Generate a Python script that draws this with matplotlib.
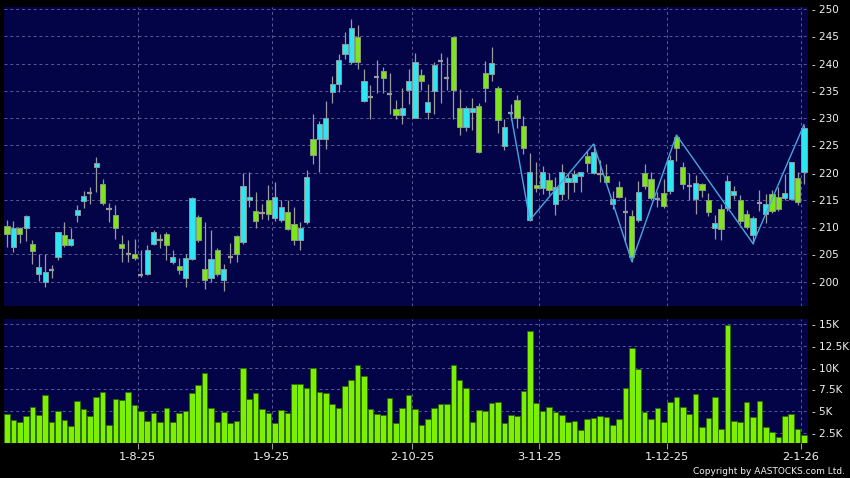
import matplotlib
matplotlib.use('Agg')
import matplotlib.pyplot as plt
import numpy as np

# daily OHLC
opens = [210.2, 206.4, 209.85, 209.85, 207.0, 201.5, 200.0, 202.2, 204.5, 208.6,
         206.8, 212.3, 214.8, 216.3, 221.0, 218.0, 213.3, 212.3, 207.0, 205.1,
         205.0, 201.3, 201.5, 207.0, 207.7, 208.8, 203.7, 202.9, 200.6, 204.1,
         211.9, 202.4, 200.7, 205.75, 200.3, 204.5, 208.4, 207.2, 215.0, 213.0,
         212.6, 215.0, 211.6, 211.4, 212.8, 210.65, 207.7, 211.0, 226.1, 226.1,
         226.1, 234.7, 236.3, 241.7, 240.3, 244.8, 233.1, 233.9, 237.5, 238.7,
         234.35, 231.6, 230.6, 235.15, 230.1, 238.0, 231.2, 235.0, 240.5, 237.3,
         244.8, 231.8, 228.3, 231.1, 232.3, 238.2, 238.1, 235.6, 224.9, 230.9,
         233.4, 228.55, 211.3, 217.7, 217.1, 218.65, 214.25, 216.0, 218.2, 218.35,
         219.4, 223.0, 219.9, 219.75, 219.45, 214.2, 217.4, 212.85, 212.1, 211.3,
         219.9, 218.8, 215.2, 216.2, 216.7, 226.5, 221.0, 217.55, 215.2, 217.9,
         215.0, 209.9, 213.3, 213.6, 215.9, 215.0, 212.45, 208.5, 214.5, 212.4,
         216.0, 215.45, 215.3, 215.2, 219.0, 220.15]
highs = [211.3, 211.1, 210.0, 212.2, 207.6, 205.0, 205.0, 203.0, 209.2, 211.0,
         209.85, 214.0, 216.6, 217.4, 222.9, 218.9, 214.5, 214.1, 208.5, 207.6,
         207.9, 205.8, 206.7, 209.4, 208.8, 209.2, 205.9, 204.4, 205.0, 215.6,
         212.2, 211.0, 209.4, 206.1, 203.2, 207.1, 208.6, 220.0, 220.2, 216.4,
         214.3, 217.7, 218.3, 215.0, 215.0, 213.7, 211.0, 220.4, 230.8, 229.4,
         233.1, 237.8, 241.8, 245.8, 248.1, 247.1, 239.0, 236.1, 240.7, 239.4,
         238.3, 233.4, 235.5, 239.0, 241.95, 239.0, 236.3, 240.3, 242.0, 241.3,
         244.9, 235.3, 232.3, 233.6, 232.8, 240.5, 243.1, 235.9, 229.8, 232.5,
         234.2, 230.3, 223.6, 222.0, 221.2, 220.0, 219.2, 221.6, 219.9, 220.5,
         220.1, 224.0, 225.25, 222.4, 221.5, 216.6, 218.5, 215.5, 213.2, 218.5,
         221.5, 220.2, 216.4, 218.9, 223.2, 226.9, 221.9, 219.9, 219.5, 218.1,
         216.2, 212.2, 214.3, 219.6, 217.5, 215.9, 213.2, 212.0, 216.9, 216.0,
         216.8, 217.4, 219.8, 222.0, 220.1, 228.8]
lows = [206.4, 205.5, 207.1, 207.5, 203.3, 200.1, 199.0, 200.6, 203.9, 206.4,
        206.5, 211.0, 213.6, 214.3, 216.5, 214.0, 211.0, 207.9, 203.6, 203.6,
        203.9, 200.9, 201.3, 206.7, 206.1, 203.9, 203.3, 201.4, 199.0, 203.9,
        207.3, 198.7, 199.9, 201.0, 198.3, 203.4, 203.6, 207.0, 213.7, 209.9,
        211.5, 211.3, 211.2, 211.0, 209.4, 206.7, 205.8, 210.6, 221.5, 220.1,
        224.4, 232.7, 234.8, 240.9, 240.0, 239.0, 233.0, 229.8, 234.6, 234.6,
        230.8, 229.9, 229.0, 232.5, 230.0, 235.2, 229.9, 230.8, 232.7, 235.2,
        229.8, 226.9, 227.6, 227.8, 223.6, 233.0, 236.8, 227.2, 224.1, 229.6,
        228.2, 223.4, 211.2, 216.5, 216.0, 215.9, 212.2, 215.0, 215.1, 216.5,
        216.4, 220.1, 219.7, 218.35, 217.9, 213.4, 215.3, 207.2, 203.7, 210.9,
        217.0, 215.0, 213.7, 213.5, 216.0, 222.1, 217.0, 215.0, 212.5, 215.6,
        212.1, 207.9, 207.7, 213.0, 215.2, 210.5, 209.6, 207.0, 212.9, 210.8,
        212.6, 212.9, 215.0, 214.9, 214.1, 217.9]
closes = [208.8, 209.85, 208.8, 212.0, 205.6, 202.7, 201.85, 202.2, 209.1, 206.8,
          207.9, 213.2, 215.7, 216.3, 221.8, 214.5, 213.3, 209.9, 206.2, 205.1,
          204.35, 201.3, 205.75, 209.1, 207.7, 206.8, 204.5, 202.2, 204.4, 215.4,
          207.7, 200.3, 204.2, 201.5, 202.3, 204.5, 205.1, 217.6, 215.6, 211.2,
          212.6, 212.4, 215.5, 213.7, 209.7, 207.7, 209.9, 219.2, 223.2, 229.0,
          230.0, 236.3, 240.6, 243.65, 246.5, 240.3, 236.9, 233.9, 237.5, 237.3,
          234.35, 230.6, 231.9, 236.9, 240.3, 236.8, 232.9, 239.7, 240.5, 237.3,
          235.15, 228.3, 231.8, 231.9, 223.8, 235.5, 240.2, 229.65, 228.3, 230.9,
          230.1, 224.6, 220.05, 217.1, 220.2, 216.8, 217.4, 220.2, 218.95, 219.7,
          220.05, 221.7, 223.7, 219.75, 218.35, 215.1, 215.6, 212.85, 204.6, 216.5,
          217.6, 215.3, 215.2, 213.95, 222.4, 224.5, 217.9, 217.55, 218.05, 216.8,
          212.7, 210.85, 209.6, 218.4, 216.6, 211.1, 210.1, 211.65, 214.5, 214.25,
          213.0, 213.3, 216.25, 221.9, 214.6, 228.1]
# volume in thousands
volumes = [4.71, 4.02, 3.76, 4.44, 5.47, 4.63, 6.84, 3.72, 4.98, 3.99,
           3.26, 6.16, 5.28, 4.48, 6.69, 7.26, 3.41, 6.39, 6.31, 7.26,
           5.74, 5.05, 3.87, 4.75, 3.80, 5.43, 3.72, 4.79, 4.98, 7.15,
           8.06, 9.44, 5.40, 3.72, 4.94, 3.64, 3.83, 9.93, 6.46, 7.15,
           5.28, 4.79, 3.60, 5.09, 4.82, 8.14, 8.14, 7.64, 10.01, 7.26,
           7.11, 5.85, 5.32, 7.87, 8.64, 10.31, 9.09, 5.28, 4.67, 4.52,
           6.54, 3.68, 5.36, 6.81, 5.21, 3.38, 4.10, 5.40, 5.82, 5.89,
           10.31, 8.60, 7.68, 3.80, 5.17, 5.02, 5.97, 6.08, 3.60, 4.60,
           4.48, 7.30, 14.16, 5.93, 5.05, 5.47, 4.94, 4.60, 3.80, 3.83,
           2.80, 4.14, 4.25, 4.48, 4.33, 3.38, 4.10, 7.72, 12.29, 9.82,
           4.86, 4.14, 5.36, 3.76, 6.01, 6.62, 5.47, 4.71, 6.96, 3.15,
           4.18, 6.65, 2.96, 14.89, 3.91, 3.80, 6.01, 4.29, 6.23, 3.19,
           2.65, 2.00, 4.41, 4.71, 3.00, 2.27]

# zigzag turning points (candle index, price)
zz_idx = [79, 82, 92, 98, 105, 117, 125]
zz_val = [230.9, 211.3, 225.25, 203.7, 226.9, 207.0, 228.8]

# first trading day of each month (candle index) and its label
month_start = [21, 42, 64, 84, 104, 125]
month_labels = ['1-8-25', '1-9-25', '2-10-25', '3-11-25', '1-12-25', '2-1-26']

price_ticks = [200, 205, 210, 215, 220, 225, 230, 235, 240, 245, 250]
vol_ticks = [2.5, 5, 7.5, 10, 12.5, 15]
vol_labels = ['2.5K', '5K', '7.5K', '10K', '12.5K', '15K']

navy = '#030348'
cyan = '#2ee6f2'
green = '#7ee41e'
wick = '#9a9a9a'
gridc = '#5a5a96'
txt = '#f2f2f2'

o = np.array(opens)
h = np.array(highs)
l = np.array(lows)
c = np.array(closes)
x = np.arange(len(o))
up = c > o
down = c < o
flat = c == o

fig = plt.figure(figsize=(8.5, 4.78), dpi=100, facecolor='black')
ax = fig.add_axes([0.0047, 0.3598, 0.9453, 0.626], facecolor=navy)
axv = fig.add_axes([0.0047, 0.0726, 0.9453, 0.2594], facecolor=navy)

xpos = [m - 0.5 for m in month_start]
for a in (ax, axv):
    for s in a.spines.values():
        s.set_visible(False)
    a.set_axisbelow(True)
    a.grid(True, color=gridc, linestyle=(0, (3, 3)), linewidth=0.7)
    a.set_xlim(-0.47, 125.55)
    a.set_xticks(xpos)
    a.yaxis.tick_right()
    a.tick_params(axis='y', length=0, pad=3, labelcolor=txt, labelsize=7.5)

# price panel
ax.vlines(x, l, h, color=wick, linewidth=0.9, zorder=2)
ax.bar(x[up], (c - o)[up], bottom=o[up], width=0.82, color=cyan,
       edgecolor='#8c9a9a', linewidth=0.7, zorder=3)
ax.bar(x[down], (o - c)[down], bottom=c[down], width=0.82, color=green,
       edgecolor='#8a9a80', linewidth=0.7, zorder=3)
ax.hlines(c[flat], x[flat] - 0.4, x[flat] + 0.4, color=wick, linewidth=1.6, zorder=3)
ax.plot(zz_idx, zz_val, color='#48a6e2', linewidth=1.0, zorder=4)

ax.set_ylim(195.54, 250.42)
ax.set_yticks(price_ticks)
ax.set_yticklabels(['- %d' % v for v in price_ticks])
ax.tick_params(axis='x', length=0, labelbottom=False)

# volume panel
axv.bar(x, volumes, width=0.88, bottom=0, color='#7cf000',
        edgecolor='#2e6a00', linewidth=0.6, zorder=3)
axv.set_ylim(1.33, 15.54)
axv.set_yticks(vol_ticks)
axv.set_yticklabels(['- ' + s for s in vol_labels])
axv.set_xticklabels(month_labels)
axv.tick_params(axis='x', length=4, width=0.8, color='#9a9a9a', pad=2,
                labelcolor=txt, labelsize=8.2)

fig.text(0.994, 0.013, 'Copyright by AASTOCKS.com Ltd.', color=txt,
         fontsize=6.5, ha='right', va='center')

fig.savefig('out.png', dpi=100, facecolor='black')
